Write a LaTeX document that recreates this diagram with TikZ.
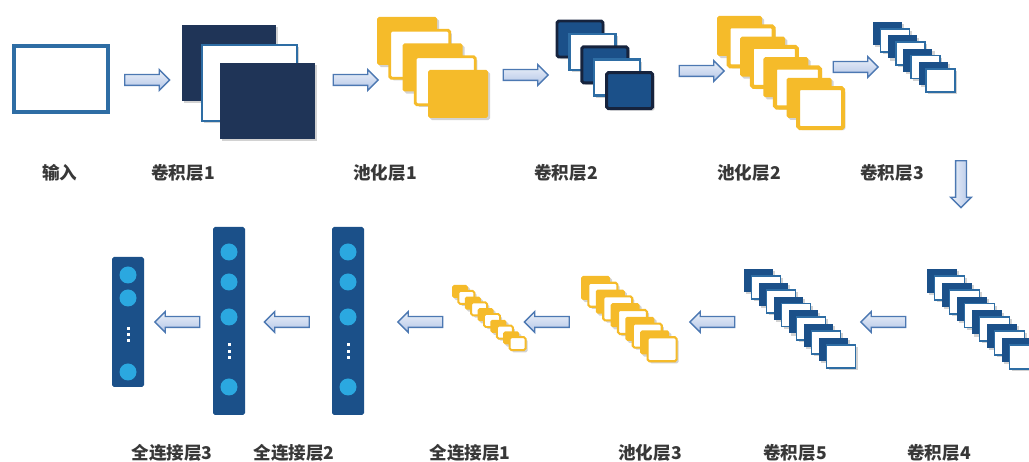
\documentclass[tikz,border=0pt]{standalone}
\usepackage{fontspec}
\setmainfont{Noto Sans CJK SC}
\usetikzlibrary{shapes.arrows,shadows}
\definecolor{navy}{HTML}{1F3457}
\definecolor{cnnblue}{HTML}{1B5089}
\definecolor{edgeblue}{HTML}{2E6DA4}
\definecolor{darkedge}{HTML}{16233D}
\definecolor{poolyellow}{HTML}{F5BB2A}
\definecolor{unitblue}{HTML}{2BA8E0}
\definecolor{arrowedge}{HTML}{4C78B2}
\definecolor{arrowfill}{HTML}{B3C6E7}
\definecolor{labelgray}{HTML}{383838}
\tikzset{
  cardshadow/.style={drop shadow={shadow xshift=1.2pt,shadow yshift=-1.2pt,opacity=.25,fill=black!70}},
  inbox/.style={fill=white,draw=edgeblue,line width=1.9pt},
  navycard/.style={fill=navy,cardshadow},
  whitecard/.style={fill=white,draw=edgeblue,line width=1.7pt,cardshadow},
  ycard/.style={fill=poolyellow,rounded corners=1pt,cardshadow},
  wycard/.style={fill=white,draw=poolyellow,line width=#1,rounded corners=1pt,cardshadow},
  bcard/.style={fill=cnnblue,draw=darkedge,line width=1.7pt,rounded corners=1pt,cardshadow},
  bwcard/.style={fill=white,draw=edgeblue,line width=1.4pt,cardshadow},
  scard/.style={fill=cnnblue,cardshadow},
  swcard/.style={fill=white,draw=edgeblue,line width=1pt,cardshadow},
  fccol/.style={fill=cnnblue,rounded corners=1pt},
  unit/.style={fill=unitblue},
  barrow/.style={single arrow,draw=arrowedge,line width=0.8pt,
    top color=arrowfill!25,bottom color=arrowfill,inner sep=0.095cm,
    single arrow head extend=0.1cm,minimum height=0.9cm},
  lbl/.style={text=labelgray,font=\fontsize{10pt}{12pt}\selectfont\bfseries}
}
% x, y, w, h, dx, dy, last index, even style, odd style
\newcommand{\stackcards}[9]{%
  \foreach \i in {0,...,#7} {
    \pgfmathtruncatemacro\odd{mod(\i,2)}
    \ifnum\odd=0
      \path[#8] ({#1+#5*\i},{#2+#6*\i}) rectangle ++(#3,#4);
    \else
      \path[#9] ({#1+#5*\i},{#2+#6*\i}) rectangle ++(#3,#4);
    \fi
  }}
\begin{document}
\begin{tikzpicture}[x=0.02cm,y=-0.02cm]
  \useasboundingbox (0,0) rectangle (1029,462);
  % top row
  \path[inbox] (14,46) rectangle (108,112);
  \path[navycard] (182,25) rectangle (276,101);
  \path[whitecard] (202,45) rectangle (297,121);
  \path[navycard] (220,63) rectangle (315,139);
  \stackcards{377}{17}{60}{48}{12.75}{13.25}{4}{ycard}{wycard=1.7pt}
  \stackcards{557}{21}{46}{36}{12.4}{12.9}{4}{bcard}{bwcard}
  \stackcards{717}{16}{45}{40}{11.6}{10.3}{7}{ycard}{wycard=2.3pt}
  \stackcards{873}{22}{29}{23}{7.6}{6.7}{7}{scard}{swcard}
  % bottom row
  \stackcards{927}{269}{30}{24}{7.5}{6.9}{11}{scard}{swcard}
  \stackcards{744}{269}{29}{23}{7.5}{6.9}{11}{scard}{swcard}
  \stackcards{581}{276}{29}{24}{7.4}{6.8}{9}{ycard}{wycard=1.2pt}
  \stackcards{452}{285}{16}{13}{6.4}{5.8}{9}{ycard}{wycard=1.1pt}
  \foreach \cx in {229,348} {
    \path[fccol] (\cx-16,227) rectangle (\cx+16,415);
    \foreach \cy in {252,282,317,387}
      \path[unit] (\cx,\cy) circle (8.5);
    \foreach \cy in {345,351.5,358}
      \fill[white] (\cx-1.5,\cy-1.5) rectangle ++(3,3);
  }
  \path[fccol] (112,257) rectangle (144,387);
  \foreach \cy in {275,298,372}
    \path[unit] (128,\cy) circle (8.5);
  \foreach \cy in {329,335,341}
    \fill[white] (126.5,\cy-1.5) rectangle ++(3,3);
  % arrows
  \node[barrow] (a1) at (144.5,80) {};
  \node[barrow] (a2) at (353,80) {};
  \node[barrow] (a3) at (523,75) {};
  \node[barrow] (a4) at (699,71) {};
  \node[barrow] (a5) at (853,67) {};
  \node[barrow,shape border rotate=270,minimum height=0.94cm,
    left color=arrowfill!25,right color=arrowfill] (a6) at (961,181.5) {};
  \node[barrow,shape border rotate=180] (a7) at (886,322) {};
  \node[barrow,shape border rotate=180] (a8) at (715,322) {};
  \node[barrow,shape border rotate=180] (a9) at (549.5,322) {};
  \node[barrow,shape border rotate=180] (a10) at (423,322) {};
  \node[barrow,shape border rotate=180] (a11) at (289.5,322) {};
  \node[barrow,shape border rotate=180] (a12) at (180,322) {};
  % labels
  \node[lbl] (input) at (60,173) {输入};
  \node[lbl] (conv1) at (183,173) {卷积层1};
  \node[lbl] (pool1) at (385,173) {池化层1};
  \node[lbl] (conv2) at (566,173) {卷积层2};
  \node[lbl] (pool2) at (749,173) {池化层2};
  \node[lbl] (conv3) at (892,173) {卷积层3};
  \node[lbl] (conv4) at (939,453) {卷积层4};
  \node[lbl] (conv5) at (795,453) {卷积层5};
  \node[lbl] (pool3) at (650,453) {池化层3};
  \node[lbl] (fc1) at (470,453) {全连接层1};
  \node[lbl] (fc2) at (294,453) {全连接层2};
  \node[lbl] (fc3) at (172,453) {全连接层3};
\end{tikzpicture}
\end{document}
